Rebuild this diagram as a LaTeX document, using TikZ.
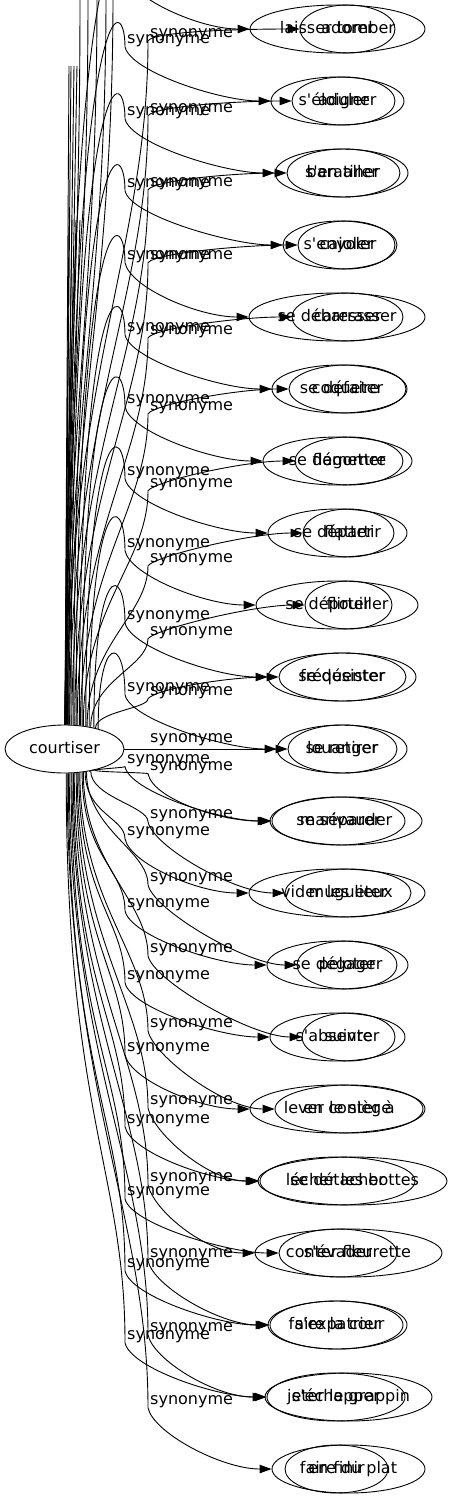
\documentclass[tikz,border=0pt]{standalone}
\usepackage{fontspec}
\setmainfont{DejaVu Sans}[Ligatures=TeXOff]
\usetikzlibrary{arrows.meta,shapes.geometric,calc}

\tikzset{
  mot/.style={draw, ellipse, minimum height=48pt, inner sep=0pt, text height=12pt, text depth=4pt, line width=0.9pt},
  etiq/.style={anchor=west, inner sep=0pt, text height=11.5pt, text depth=3.5pt},
  lien/.style={line width=0.9pt, -{Triangle[length=12pt,width=8.5pt]}},
  coupe/.style={line width=0.9pt},
}

\begin{document}
\begin{tikzpicture}[x=1pt, y=-1pt, font=\fontsize{16}{19}\selectfont]
\useasboundingbox (0,0) rectangle (452,1499);
\clip (0,0) rectangle (452,1499);

% noeud central
\node[mot, minimum width=119pt] (court) at (64.5,749) {\makebox[0pt]{courtiser}};

% les deux colonnes de mots, l'une sur l'autre
\foreach \r/\ta/\xa/\wa/\tb/\xb/\wb in {
  1/laisser tomber/337.5/175/adorer/347.5/95,
  2/s'éloigner/337.5/133/aduler/343.5/103,
  3/s'en aller/341.5/133/baratiner/343.5/113,
  4/s'envoler/340/114/cajoler/346.5/97,
  5/se débarrasser/337/176/caresser/347.5/111,
  6/se défaire/339.5/135/coqueter/347.5/117,
  7/se démettre/337.5/149/flagorner/349/108,
  8/se départir/337.5/139/flatter/348.5/91,
  9/se dépouiller/337/162/flirter/348.5/87,
  10/se désister/342/148/fréquenter/342.5/127,
  11/se retirer/342/130/louanger/342.5/109,
  12/se séparer/338.5/133/marivauder/346/152,
  13/vider les lieux/337/176/mugueter/348/126,
  14/se dégager/337.5/141/peloter/347/100,
  15/s'absenter/337.5/135/suivre/348.5/93,
  16/lever le siège/337.5/175/en conter à/349/148,
  17/se détacher/337.5/155/lécher les bottes/352.5/189,
  18/s'évader/338/118/conter fleurette/348.5/187,
  19/s'expatrier/337.5/139/faire la cour/336.5/133,
  20/s'échapper/336/138/jeter le grappin/348.5/167,
  21/en finir/336.5/103/faire du plat/348.5/153}{
  \node[mot, minimum width=\wa pt] (a\r) at (\xa,{29+72*(\r-1)}) {\makebox[0pt]{\ta}};
  \node[mot, minimum width=\wb pt] (b\r) at (\xb,{29+72*(\r-1)}) {\makebox[0pt]{\tb}};
}

% etiquettes
\coordinate (wa0) at (125,-27);
\foreach \k in {1,...,19}{
  \node[etiq] (la\k) at (127,{-33+72*\k}) {synonyme};
  \coordinate (wa\k) at ($(la\k.south west)+(-2,0)$);
}
\foreach \k/\y in {1/33,2/108,3/182,4/255,5/330,6/406,7/483,8/558,9/631,10/691,11/738,
  12/766,13/814,14/877,15/948,16/1023,17/1100,18/1177,19/1253,20/1327,21/1400}{
  \node[etiq] (lb\k) at (150,\y) {synonyme};
  \coordinate (wb\k) at ($(lb\k.south west)+(-2,0)$);
}

% liens vers la premiere colonne (haut)
\foreach \k in {0,...,10}{
  \pgfmathtruncatemacro\n{\k+1}
  \pgfmathtruncatemacro\ang{86-5.5*\k}
  \pgfmathsetmacro\cun{815-72*\k}
  \draw[lien] (court.\ang) .. controls ($(court.\ang)+(0,-\cun)$) and ($(wa\k)+(0,-60)$) .. (wa\k)
    .. controls ($(wa\k)+(5,25)$) and ($(a\n.west)+(-50,0)$) .. (a\n.west);
}
% liens vers la premiere colonne (bas)
\foreach \k in {11,...,19}{
  \pgfmathtruncatemacro\n{\k+1}
  \pgfmathtruncatemacro\ang{274+5.5*(19-\k)}
  \pgfmathsetmacro\cun{0.6*(72*\k-795)}
  \pgfmathsetmacro\cdeux{-0.3*(72*\k-795)}
  \draw[lien] (court.\ang) .. controls ($(court.\ang)+(0,\cun)$) and ($(wa\k)+(0,\cdeux)$) .. (wa\k)
    .. controls ($(wa\k)+(5,25)$) and ($(a\n.west)+(-50,0)$) .. (a\n.west);
}

% liens vers la seconde colonne (haut)
\foreach \k/\y in {1/33,2/108,3/182,4/255,5/330,6/406,7/483,8/558,9/631,10/691}{
  \pgfmathtruncatemacro\ang{84-5.5*(\k-1)}
  \pgfmathsetmacro\cun{0.5*(724-\y)}
  \pgfmathsetmacro\cdeux{0.3*(724-\y)}
  \draw[lien] (court.\ang) .. controls ($(court.\ang)+(0,-\cun)$) and ($(wb\k)+(0,\cdeux)$) .. (wb\k)
    .. controls ($(wb\k)+(8,-10)$) and ($(b\k.west)+(-50,0)$) .. (b\k.west);
}
\draw[lien] (court.east) -- (b11.west);
% liens vers la seconde colonne (bas)
\foreach \k/\y in {12/766,13/814,14/877,15/948,16/1023,17/1100,18/1177,19/1253,20/1327,21/1400}{
  \pgfmathtruncatemacro\ang{276+5.5*(21-\k)}
  \pgfmathsetmacro\cun{0.5*(\y-762)}
  \pgfmathsetmacro\cdeux{-0.3*(\y-762)}
  \draw[lien] (court.\ang) .. controls ($(court.\ang)+(0,\cun)$) and ($(wb\k)+(0,\cdeux)$) .. (wb\k)
    .. controls ($(wb\k)+(5,25)$) and ($(b\k.west)+(-50,0)$) .. (b\k.west);
}

% liens qui sortent par le haut
\foreach \i/\x/\ang in {1/80/88,2/88/87,3/97/85,4/106/83,5/113/80}{
  \coordinate (haut\i) at (\x,-5);
  \draw[coupe] (court.\ang) .. controls ($(court.\ang)+(0,-300)$) and (\x,300) .. (haut\i);
}
\foreach \i/\x/\y in {1/69/66,2/71/66,3/74/66,4/77/66,5/69/220,6/72/220,7/76/220,8/80/220}{
  \coordinate (coupe\i) at (\x,\y);
  \draw[coupe] (court.89) -- (coupe\i);
}
\end{tikzpicture}
\end{document}
